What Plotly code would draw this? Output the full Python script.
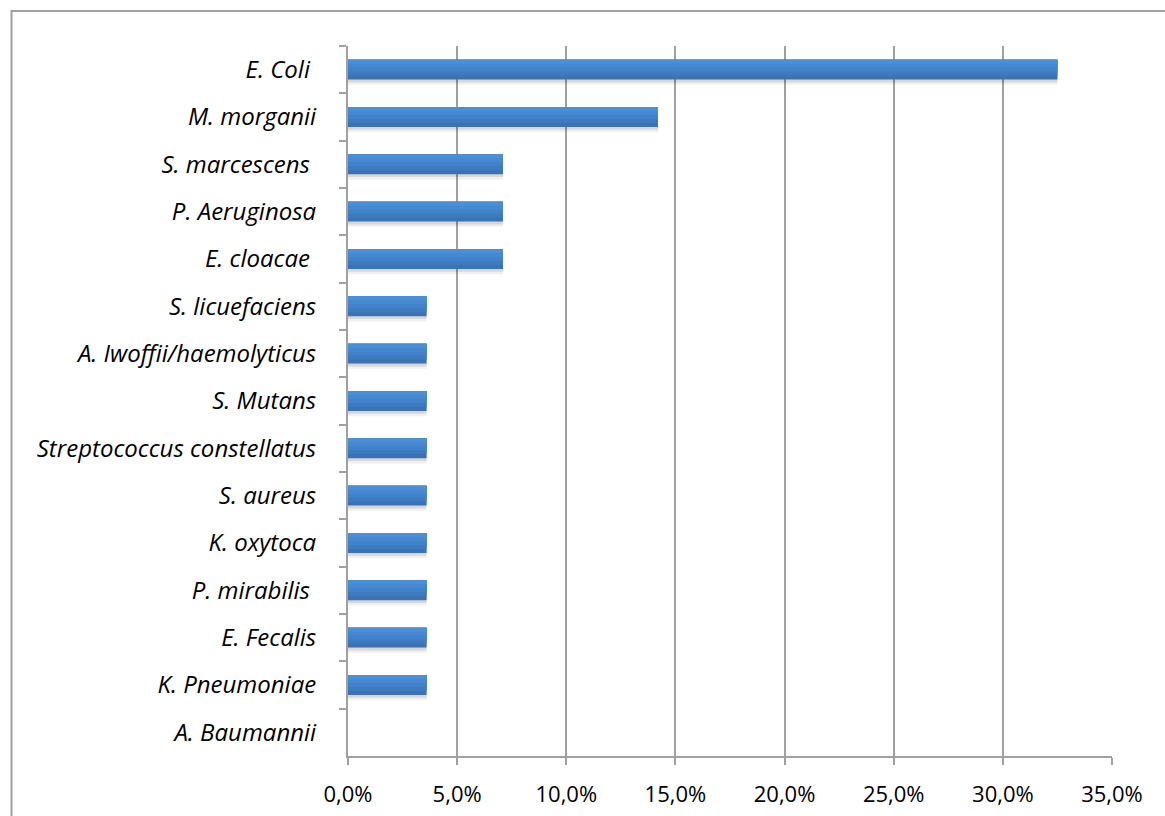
import plotly.graph_objects as go

# Share of isolates per organism (fraction of total)
organisms = [
    "E. Coli\u00a0", "M. morganii", "S. marcescens\u00a0", "P. Aeruginosa",
    "E. cloacae\u00a0", "S. licuefaciens", "A. Iwoffii/haemolyticus", "S. Mutans",
    "Streptococcus constellatus", "S. aureus", "K. oxytoca", "P. mirabilis\u00a0",
    "E. Fecalis", "K. Pneumoniae", "A. Baumannii",
]
shares = [
    0.325, 0.142, 0.071, 0.071,
    0.071, 0.036, 0.036, 0.036,
    0.036, 0.036, 0.036, 0.036,
    0.036, 0.036, 0.0,
]
x_ticks = [0, 0.05, 0.10, 0.15, 0.20, 0.25, 0.30, 0.35]

GRID = "#a0a0a0"
BAR_W = 0.42
TOP = -BAR_W / 2

fig = go.Figure()

# soft drop shadow under each bar (two faint layers)
for shift, alpha in [(0.11, 0.06), (0.06, 0.10)]:
    fig.add_trace(go.Bar(
        y=organisms, x=shares, orientation="h",
        width=BAR_W, offset=TOP + shift,
        marker=dict(color=f"rgba(0,0,0,{alpha})", line=dict(width=0)),
        hoverinfo="skip", showlegend=False,
    ))

# bar body drawn as stacked tone bands, light at the top, darker toward the bottom
bands = [
    (1.00, "#3b72b3"),
    (0.80, "#3e7abf"),
    (0.60, "#4282c9"),
    (0.40, "#4689d2"),
    (0.20, "#4a8fd8"),
]
for frac, color in bands:
    fig.add_trace(go.Bar(
        y=organisms, x=shares, orientation="h",
        width=BAR_W * frac, offset=TOP,
        marker=dict(color=color, line=dict(width=0)),
        hoverinfo="skip" if frac < 1 else None, showlegend=False,
    ))

fig.update_layout(
    width=1165, height=816,
    margin=dict(l=348, r=53, t=46, b=60),
    paper_bgcolor="white", plot_bgcolor="white",
    barmode="overlay",
    separators=",.",
    font=dict(family="Open Sans", color="black"),
    xaxis=dict(
        range=[0, 0.35], tickvals=x_ticks, tickformat=".1%",
        showgrid=True, gridcolor=GRID, gridwidth=2,
        showline=True, linecolor=GRID, linewidth=2,
        ticks="outside", ticklen=7, tickcolor=GRID, tickwidth=2,
        tickfont=dict(size=22, family="Open Sans"),
        ticklabelstandoff=11,
        zeroline=False, fixedrange=True, automargin=False,
    ),
    yaxis=dict(
        type="category", categoryorder="array", categoryarray=organisms,
        range=[14.5, -0.5],
        showline=True, linecolor=GRID, linewidth=2,
        ticks="outside", ticklen=7, tickcolor=GRID, tickwidth=2,
        tickson="boundaries",
        tickfont=dict(size=24, family="Open Sans", style="italic"),
        ticklabelstandoff=25,
        showgrid=False, zeroline=False, fixedrange=True, automargin=False,
    ),
    shapes=[dict(
        type="rect", xref="paper", yref="paper",
        x0=-348 / 764 + 11.5 / 764, x1=1.2, y0=-0.2, y1=1 + 35 / 710,
        line=dict(color="#a0a0a0", width=2), fillcolor="rgba(0,0,0,0)",
        layer="below",
    )],
)

fig.write_html("out.html")
